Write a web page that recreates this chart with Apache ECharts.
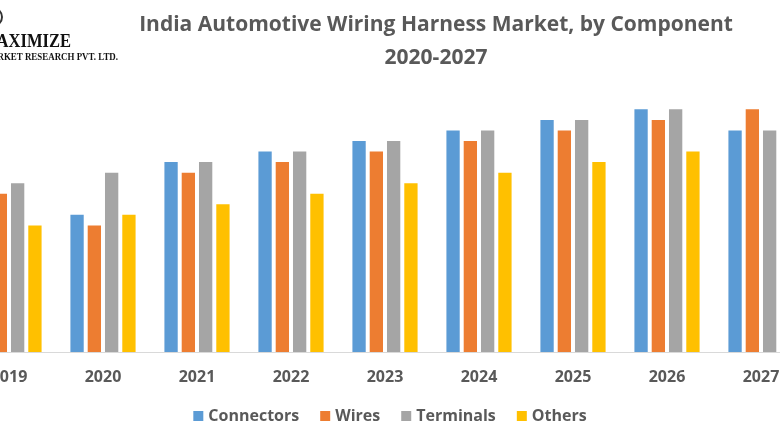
<!DOCTYPE html>
<html>
<head>
<meta charset="utf-8">
<script src="https://cdn.jsdelivr.net/npm/echarts@6/dist/echarts.min.js"></script>
<style>
html,body{margin:0;padding:0;background:#fff;}
#chart{width:780px;height:440px;}
</style>
</head>
<body>
<div id="chart"></div>
<script>
var years = ['2019','2020','2021','2022','2023','2024','2025','2026','2027'];
var connectors = [14, 13, 18, 19, 20, 21, 22, 23, 21];
var wires      = [15, 12, 17, 18, 19, 20, 21, 22, 23];
var terminals  = [16, 17, 18, 19, 20, 21, 22, 23, 21];
var others     = [12, 13, 14, 15, 16, 17, 18, 19, 20];
var seriesNames = ['Connectors','Wires','Terminals','Others'];
var colors = ['#5b9bd5','#ed7d31','#a5a5a5','#ffc000'];

var chart = echarts.init(document.getElementById('chart'));
var font = '"Open Sans", "DejaVu Sans", sans-serif';
function mk(name, data, i){
  return {name:name, type:'bar', data:data, barWidth:13.3, barGap:'30%',
    itemStyle:{color:colors[i]}, animation:false};
}
chart.setOption({
  animation:false,
  backgroundColor:'#ffffff',
  title:{
    text:'India Automotive Wiring Harness Market, by Component\n2020-2027',
    left:431, top:4, textAlign:'center',
    textStyle:{fontFamily:font, fontWeight:'bold', fontSize:21, color:'#595959', lineHeight:33}
  },
  legend:{
    data:seriesNames, bottom:11, left:'center', icon:'rect', itemWidth:10, itemHeight:10,
    itemGap:21,
    textStyle:{fontFamily:font, fontWeight:'bold', fontSize:16, color:'#595959'}
  },
  grid:{left:-38, right:-28, top:35.5, bottom:88, containLabel:false, outerBoundsMode:'none'},
  xAxis:{
    type:'category', data:years,
    axisLine:{lineStyle:{color:'#d9d9d9', width:1}},
    axisTick:{show:false},
    axisLabel:{fontFamily:font, fontWeight:'bold', fontSize:16, color:'#595959', margin:17}
  },
  yAxis:{type:'value', min:0, max:30, show:false, splitLine:{show:false}},
  series:[mk(seriesNames[0],connectors,0), mk(seriesNames[1],wires,1), mk(seriesNames[2],terminals,2), mk(seriesNames[3],others,3)],
  graphic:[
    {type:'circle', shape:{cx:-7, cy:17, r:9}, style:{fill:'none', stroke:'#333', lineWidth:2}},
    {type:'text', x:71, y:33, scaleX:0.87, style:{text:'MAXIMIZE', align:'right', fontFamily:'"Liberation Serif", serif', fontWeight:'bold', fontSize:19, fill:'#111'}},
    {type:'text', x:118, y:52, scaleX:0.81, style:{text:'MARKET RESEARCH PVT. LTD.', align:'right', fontFamily:'"Liberation Serif", serif', fontWeight:'bold', fontSize:11, fill:'#111'}}
  ]
});
</script>
</body>
</html>
